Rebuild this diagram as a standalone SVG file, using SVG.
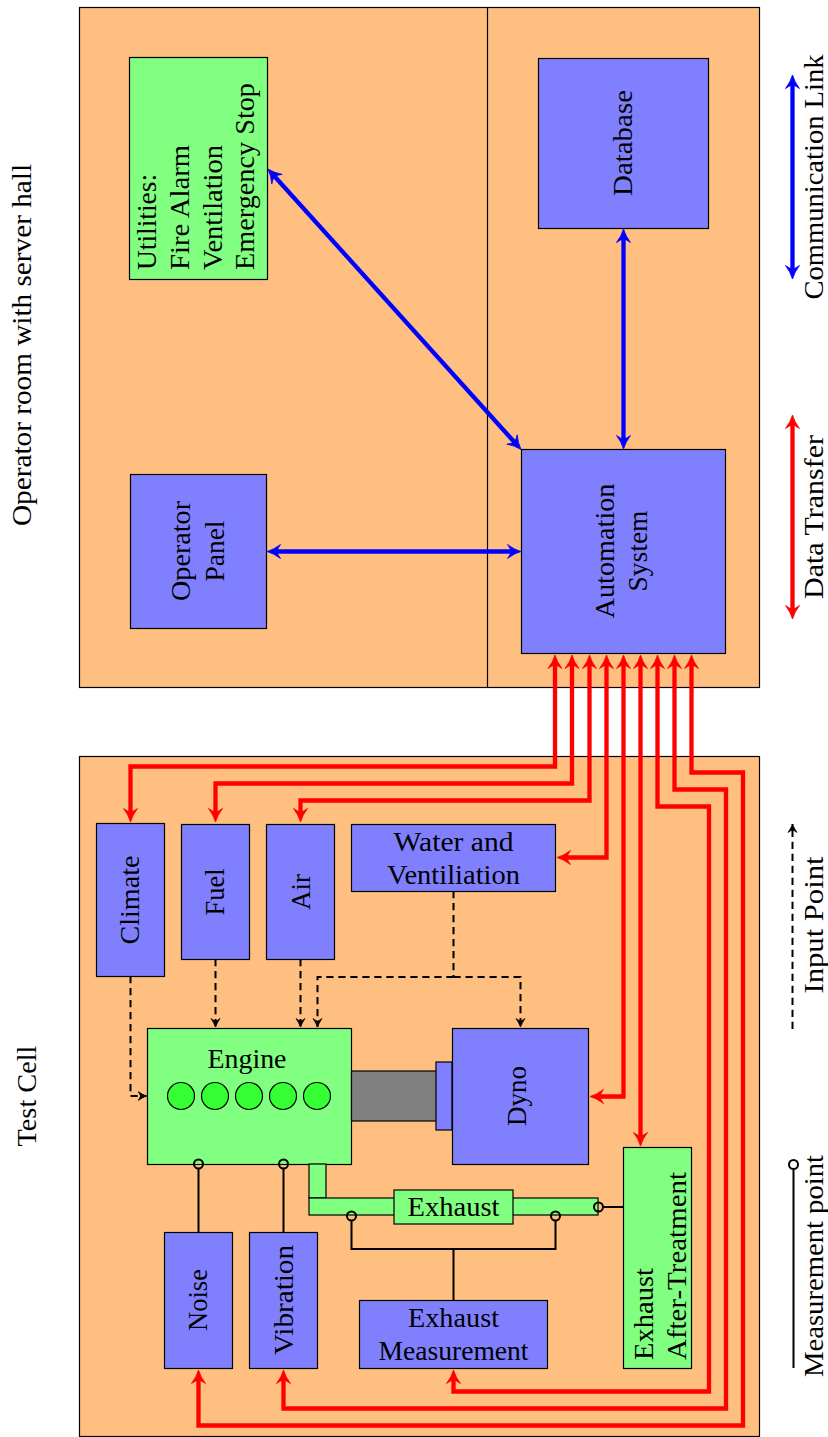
<svg xmlns="http://www.w3.org/2000/svg" width="828" height="1437" viewBox="0 0 828 1437">
<style>
.room{fill:#ffbf80;stroke:#000;stroke-width:1.2}
.blue{fill:#8080ff;stroke:#000;stroke-width:1.2}
.green{fill:#80ff80;stroke:#000;stroke-width:1.2}
.gray{fill:#808080;stroke:#000;stroke-width:1.2}
.cyl{fill:#33ff33;stroke:#000;stroke-width:1.2}
.red{fill:none;stroke:#f00;stroke-width:4.300;stroke-linejoin:miter}
.bl{fill:none;stroke:#00f;stroke-width:4.300}
.dash{fill:none;stroke:#000;stroke-width:2;stroke-dasharray:7.200 4.800}
.solid{fill:none;stroke:#000;stroke-width:2}
.mp{fill:none;stroke:#000;stroke-width:2}
text{font-family:"Liberation Serif","Times New Roman",serif;font-size:27px;fill:#000;text-anchor:middle}
.s{text-anchor:start}
</style>
<defs>
<marker id="ar" markerUnits="userSpaceOnUse" markerWidth="18" markerHeight="18" refX="8" refY="8" orient="auto-start-reverse"><path d="M0.500 1Q3.500 5 4 8Q3.500 11 0.500 15Q7 10 14 8Q7 6 0.500 1Z" fill="#f00" stroke="#f00" stroke-width="0.800"/></marker>
<marker id="ab" markerUnits="userSpaceOnUse" markerWidth="18" markerHeight="18" refX="8" refY="8" orient="auto-start-reverse"><path d="M0.500 1Q3.500 5 4 8Q3.500 11 0.500 15Q7 10 14 8Q7 6 0.500 1Z" fill="#00f" stroke="#00f" stroke-width="0.800"/></marker>
<marker id="ak" markerUnits="userSpaceOnUse" markerWidth="12" markerHeight="12" refX="9" refY="5.500" orient="auto"><path d="M0.500 1Q2.500 3.500 3 5.500Q2.500 7.500 0.500 10Q5 7 9 5.500Q5 4 0.500 1Z" fill="#000" stroke="#000" stroke-width="0.700"/></marker>
</defs>
<g id="rooms">
<rect class="room" x="79.500" y="7.500" width="680" height="680"/>
<line x1="487.500" y1="7.500" x2="487.500" y2="687.500" stroke="#000" stroke-width="1.2"/>
<rect class="room" x="79.500" y="756.500" width="680" height="680"/>
</g>
<g id="utilities"><rect class="green" x="129.500" y="57.500" width="138" height="222"/>
<text class="s" transform="translate(156 270) rotate(-90)" textLength="96" lengthAdjust="spacingAndGlyphs">Utilities:</text>
<text class="s" transform="translate(189 270) rotate(-90)" textLength="125" lengthAdjust="spacingAndGlyphs">Fire Alarm</text>
<text class="s" transform="translate(221.500 270) rotate(-90)" textLength="125" lengthAdjust="spacingAndGlyphs">Ventilation</text>
<text class="s" transform="translate(254 270) rotate(-90)" textLength="187" lengthAdjust="spacingAndGlyphs">Emergency Stop</text></g>
<g id="database"><rect class="blue" x="538.500" y="58.500" width="170" height="170"/>
<text transform="translate(632 143) rotate(-90)" textLength="106" lengthAdjust="spacingAndGlyphs">Database</text></g>
<g id="operator-panel"><rect class="blue" x="130.500" y="474.500" width="136" height="154"/>
<text transform="translate(190 551) rotate(-90)" textLength="100" lengthAdjust="spacingAndGlyphs">Operator</text>
<text transform="translate(224 551) rotate(-90)" textLength="61" lengthAdjust="spacingAndGlyphs">Panel</text></g>
<g id="automation"><rect class="blue" x="521.500" y="449.500" width="204" height="204"/>
<text transform="translate(614 551) rotate(-90)" textLength="135" lengthAdjust="spacingAndGlyphs">Automation</text>
<text transform="translate(647 551) rotate(-90)" textLength="81" lengthAdjust="spacingAndGlyphs">System</text></g>
<g id="climate"><rect class="blue" x="96.500" y="823.500" width="68" height="153"/>
<text transform="translate(139 900) rotate(-90)" textLength="89" lengthAdjust="spacingAndGlyphs">Climate</text></g>
<g id="fuel"><rect class="blue" x="181.500" y="824.500" width="68" height="135"/>
<text transform="translate(224 892) rotate(-90)" textLength="47" lengthAdjust="spacingAndGlyphs">Fuel</text></g>
<g id="air"><rect class="blue" x="266.500" y="824.500" width="68" height="135"/>
<text transform="translate(310 892) rotate(-90)" textLength="36" lengthAdjust="spacingAndGlyphs">Air</text></g>
<g id="water"><rect class="blue" x="351.500" y="824.500" width="204" height="67"/>
<text x="453.500" y="851" textLength="120" lengthAdjust="spacingAndGlyphs">Water and</text>
<text x="453.500" y="884" textLength="133" lengthAdjust="spacingAndGlyphs">Ventiliation</text></g>
<g id="engine"><rect class="green" x="147.500" y="1028.500" width="204" height="136"/>
<text x="247" y="1068" textLength="79" lengthAdjust="spacingAndGlyphs">Engine</text>
<circle class="cyl" cx="181" cy="1096" r="13.500"/><circle class="cyl" cx="215" cy="1096" r="13.500"/><circle class="cyl" cx="249" cy="1096" r="13.500"/><circle class="cyl" cx="283" cy="1096" r="13.500"/><circle class="cyl" cx="317" cy="1096" r="13.500"/></g>
<g id="shaft"><rect class="gray" x="351.500" y="1071" width="85" height="50"/><rect class="blue" x="436" y="1062" width="16" height="68"/></g>
<g id="dyno"><rect class="blue" x="452.500" y="1028.500" width="136" height="136"/>
<text transform="translate(526 1096) rotate(-90)" textLength="60" lengthAdjust="spacingAndGlyphs">Dyno</text></g>
<g id="exhaust"><rect class="green" x="309" y="1164" width="17" height="34"/><rect class="green" x="309" y="1198" width="289" height="17"/><rect class="green" x="394" y="1190" width="119" height="34"/>
<text x="453.500" y="1216" textLength="92" lengthAdjust="spacingAndGlyphs">Exhaust</text></g>
<g id="noise"><rect class="blue" x="164.500" y="1232.500" width="68" height="136"/>
<text transform="translate(207 1300) rotate(-90)" textLength="62" lengthAdjust="spacingAndGlyphs">Noise</text></g>
<g id="vibration"><rect class="blue" x="249.500" y="1232.500" width="68" height="136"/>
<text transform="translate(293 1300) rotate(-90)" textLength="110" lengthAdjust="spacingAndGlyphs">Vibration</text></g>
<g id="exhaust-measurement"><rect class="blue" x="359.500" y="1300.500" width="188" height="68"/>
<text x="453.500" y="1327" textLength="91" lengthAdjust="spacingAndGlyphs">Exhaust</text>
<text x="453.500" y="1360" textLength="150" lengthAdjust="spacingAndGlyphs">Measurement</text></g>
<g id="after-treatment"><rect class="green" x="623.500" y="1147.500" width="68" height="221"/>
<text class="s" transform="translate(653 1360) rotate(-90)" textLength="92" lengthAdjust="spacingAndGlyphs">Exhaust</text>
<text class="s" transform="translate(686 1360) rotate(-90)" textLength="188" lengthAdjust="spacingAndGlyphs">After-Treatment</text></g>
<g id="connectors">
<g>
<path class="bl" marker-start="url(#ab)" marker-end="url(#ab)" d="M623.500 235V443"/>
<path class="bl" marker-start="url(#ab)" marker-end="url(#ab)" d="M272 173.500L517 445"/>
<path class="bl" marker-start="url(#ab)" marker-end="url(#ab)" d="M273 551.500H515"/>
</g>
<g>
<path class="red" marker-start="url(#ar)" marker-end="url(#ar)" d="M555 661V766.500H130.500V816"/>
<path class="red" marker-start="url(#ar)" marker-end="url(#ar)" d="M572 661V783.500H215.500V816"/>
<path class="red" marker-start="url(#ar)" marker-end="url(#ar)" d="M589.500 661V800.500H300.500V816"/>
<path class="red" marker-start="url(#ar)" marker-end="url(#ar)" d="M606.500 661V857.500H563"/>
<path class="red" marker-start="url(#ar)" marker-end="url(#ar)" d="M623.500 661V1096.500H596"/>
<path class="red" marker-start="url(#ar)" marker-end="url(#ar)" d="M640.500 661V1140"/>
<path class="red" marker-start="url(#ar)" marker-end="url(#ar)" d="M657.500 661V806.500H709V1391.500H453.500V1376"/>
<path class="red" marker-start="url(#ar)" marker-end="url(#ar)" d="M674.500 661V789.500H726V1408.500H283.500V1376"/>
<path class="red" marker-start="url(#ar)" marker-end="url(#ar)" d="M691.500 661V772.500H743V1425.500H198.500V1376"/>
</g>
<g>
<path class="dash" marker-end="url(#ak)" d="M130.500 976V1096H146.500"/>
<path class="dash" marker-end="url(#ak)" d="M215.500 959V1027"/>
<path class="dash" marker-end="url(#ak)" d="M300.500 959V1027"/>
<path class="dash" d="M453.500 891V977"/>
<path class="dash" marker-end="url(#ak)" d="M453.500 977H317.500V1027"/>
<path class="dash" marker-end="url(#ak)" d="M453.500 977H520.500V1027"/>
</g>
<g>
<path class="solid" d="M198.500 1232V1169"/><circle class="mp" cx="198.500" cy="1164" r="4.500"/>
<path class="solid" d="M283.500 1232V1169"/><circle class="mp" cx="283.500" cy="1164" r="4.500"/>
<path class="solid" d="M351.500 1221V1249H555.500V1221"/><circle class="mp" cx="351.500" cy="1216" r="4.500"/><circle class="mp" cx="555.500" cy="1216" r="4.500"/>
<path class="solid" d="M453.500 1249V1300"/>
<path class="solid" d="M623.500 1207H604"/><circle class="mp" cx="598.500" cy="1207" r="4.500"/>
</g>
</g>
<g id="legend">
<path class="bl" marker-start="url(#ab)" marker-end="url(#ab)" d="M792.500 81V273"/>
<path class="red" marker-start="url(#ar)" marker-end="url(#ar)" d="M792.500 421V613"/>
<path class="dash" marker-end="url(#ak)" d="M792.500 1029V824"/>
<path class="solid" d="M793.500 1368V1170"/><circle class="mp" cx="793.500" cy="1164.500" r="4.500"/>
<text transform="translate(823 177) rotate(-90)" textLength="245" lengthAdjust="spacingAndGlyphs">Communication Link</text>
<text transform="translate(823 517) rotate(-90)" textLength="164" lengthAdjust="spacingAndGlyphs">Data Transfer</text>
<text transform="translate(823 925) rotate(-90)" textLength="137" lengthAdjust="spacingAndGlyphs">Input Point</text>
<text transform="translate(823 1266) rotate(-90)" textLength="222" lengthAdjust="spacingAndGlyphs">Measurement point</text>
<text transform="translate(31 345) rotate(-90)" textLength="362" lengthAdjust="spacingAndGlyphs">Operator room with server hall</text>
<text transform="translate(36 1096) rotate(-90)" textLength="101" lengthAdjust="spacingAndGlyphs">Test Cell</text>
</g>
</svg>
